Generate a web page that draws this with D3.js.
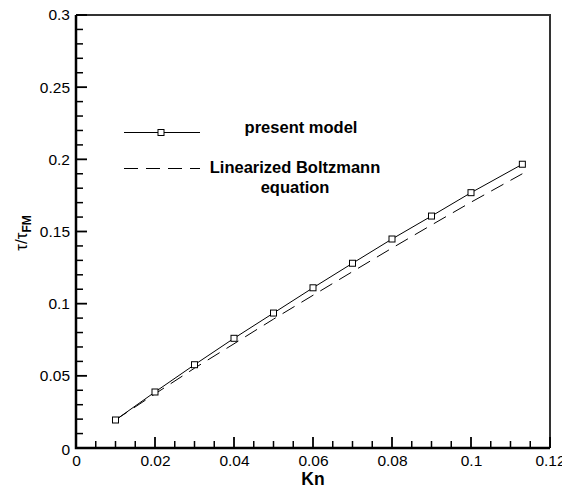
<!DOCTYPE html>
<html>
<head>
<meta charset="utf-8">
<script src="https://cdn.jsdelivr.net/npm/d3@7"></script>
<style>
  body { margin: 0; background: #fff; }
  svg { display: block; font-family: "Liberation Sans", Arial, Helvetica, sans-serif; }
</style>
</head>
<body>
<svg id="chart" width="562" height="488"></svg>
<script>
// Kn values and tau/tau_FM
const kn = [0.01, 0.02, 0.03, 0.04, 0.05, 0.06, 0.07, 0.08, 0.09, 0.1, 0.113];
const presentModel = [0.0194, 0.0388, 0.0577, 0.076, 0.0935, 0.111, 0.128, 0.1448, 0.1607, 0.1769, 0.1966];
const linearBoltzmann = [0.0195, 0.0375, 0.0553, 0.0722, 0.0893, 0.1058, 0.1222, 0.1385, 0.1545, 0.1703, 0.190];
const xTicks = [0, 0.02, 0.04, 0.06, 0.08, 0.1, 0.12];
const yTicks = [0, 0.05, 0.1, 0.15, 0.2, 0.25, 0.3];
const xMinor = [0.005, 0.01, 0.015, 0.025, 0.03, 0.035, 0.045, 0.05, 0.055, 0.065, 0.07, 0.075,
    0.085, 0.09, 0.095, 0.105, 0.11, 0.115];
const yMinor = [0.01, 0.02, 0.03, 0.04, 0.06, 0.07, 0.08, 0.09, 0.11, 0.12, 0.13, 0.14,
    0.16, 0.17, 0.18, 0.19, 0.21, 0.22, 0.23, 0.24, 0.26, 0.27, 0.28, 0.29];

const svg = d3.select("#chart");
const margin = { top: 15, left: 76 };
const plotW = 550 - margin.left;
const plotH = 448 - margin.top;

const x = d3.scaleLinear().domain([0, 0.12]).range([0, plotW]);
const y = d3.scaleLinear().domain([0, 0.3]).range([plotH, 0]);

const g = svg.append("g")
    .attr("transform", `translate(${margin.left},${margin.top})`);

const fmt = d => String(+d.toFixed(3));
const xAxis = d3.axisBottom(x)
    .tickValues(xTicks)
    .tickSize(0).tickPadding(7)
    .tickFormat(fmt);
const yAxis = d3.axisLeft(y)
    .tickValues(yTicks)
    .tickSize(0).tickPadding(6)
    .tickFormat(fmt);

const gx = g.append("g")
    .attr("transform", `translate(0,${plotH})`)
    .call(xAxis);
const gy = g.append("g").call(yAxis);

[gx, gy].forEach(a => {
    a.attr("font-family", null).attr("font-size", null);
    a.select(".domain").remove();
    a.selectAll(".tick line").remove();
    a.selectAll("text").attr("font-size", 15.5).attr("fill", "#000");
});
gy.selectAll(".tick").filter(d => d === 0).select("text").attr("dy", "0.45em");

// frame
g.append("path")
    .attr("d", `M0,0H${plotW}V${plotH}`)
    .attr("fill", "none").attr("stroke", "#333").attr("stroke-width", 2);
g.append("path")
    .attr("d", `M0,0V${plotH}H${plotW}`)
    .attr("fill", "none").attr("stroke", "black").attr("stroke-width", 2.5);

// inward tick marks, major and minor, as rects
const tickMarks = [
    ...xTicks.map(d => ({ px: x(d) - 0.9, py: plotH - 11, w: 1.8, h: 11 })),
    ...xMinor.map(d => ({ px: x(d) - 0.75, py: plotH - 7, w: 1.5, h: 7 })),
    ...yTicks.map(d => ({ px: 0, py: y(d) - 0.9, w: 11, h: 1.8 })),
    ...yMinor.map(d => ({ px: 0, py: y(d) - 0.75, w: 7, h: 1.5 }))
];
g.selectAll(".tickmark")
    .data(tickMarks)
    .enter().append("rect")
    .attr("class", "tickmark")
    .attr("x", d => d.px).attr("y", d => d.py)
    .attr("width", d => d.w).attr("height", d => d.h)
    .attr("fill", "#000");

// series
const line = d3.line().x(d => x(d[0])).y(d => y(d[1]));

g.append("path")
    .datum(kn.map((k, i) => [k, linearBoltzmann[i]]))
    .attr("d", line)
    .attr("fill", "none").attr("stroke", "black").attr("stroke-width", 1)
    .attr("stroke-dasharray", "14,8");

g.append("path")
    .datum(kn.map((k, i) => [k, presentModel[i]]))
    .attr("d", line)
    .attr("fill", "none").attr("stroke", "black").attr("stroke-width", 1);

g.selectAll(".marker")
    .data(kn.map((k, i) => [k, presentModel[i]]))
    .enter().append("rect")
    .attr("class", "marker")
    .attr("x", d => x(d[0]) - 3).attr("y", d => y(d[1]) - 3)
    .attr("width", 6).attr("height", 6)
    .attr("fill", "#fff").attr("stroke", "black").attr("stroke-width", 1);

// axis titles
svg.append("text")
    .attr("x", margin.left + x(0.06)).attr("y", 485)
    .attr("text-anchor", "middle")
    .attr("font-size", 17.5).attr("font-weight", "bold")
    .text("Kn");

const yt = svg.append("text")
    .attr("transform", "translate(27,233) rotate(-90)")
    .attr("text-anchor", "middle")
    .attr("font-size", 17);
yt.append("tspan").text("τ/τ");
yt.append("tspan").attr("font-size", 12).attr("font-weight", "bold").attr("dy", 4).text("FM");

// legend
const legend = svg.append("g");
legend.append("path")
    .attr("d", "M124,132.5H200")
    .attr("stroke", "black").attr("stroke-width", 1);
legend.append("rect")
    .attr("x", 158).attr("y", 129.5).attr("width", 6).attr("height", 6)
    .attr("fill", "#fff").attr("stroke", "black").attr("stroke-width", 1);
legend.append("path")
    .attr("d", "M124,168.5H200")
    .attr("stroke", "black").attr("stroke-width", 1)
    .attr("stroke-dasharray", "14,8");

const legendText = [
    { label: "present model", x: 301, y: 133 },
    { label: "Linearized Boltzmann", x: 295, y: 172.5 },
    { label: "equation", x: 295, y: 192.5 }
];
legend.selectAll(".legend-text")
    .data(legendText)
    .enter().append("text")
    .attr("class", "legend-text")
    .attr("x", d => d.x).attr("y", d => d.y)
    .attr("text-anchor", "middle")
    .attr("font-size", 16.5).attr("font-weight", "bold")
    .text(d => d.label);
</script>
</body>
</html>
